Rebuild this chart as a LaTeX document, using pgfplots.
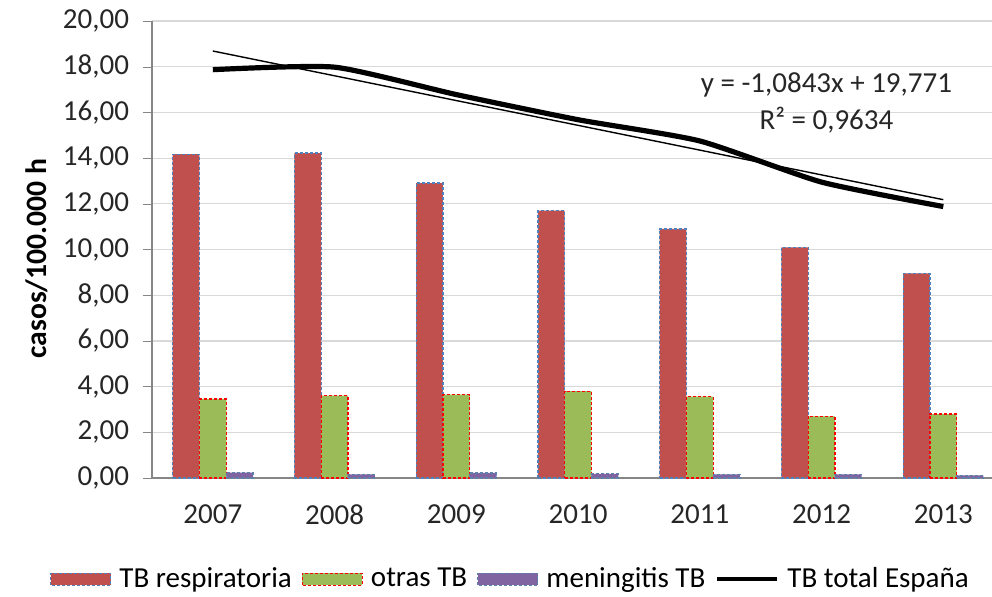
\documentclass[border=0pt]{standalone}
\usepackage{fontspec}
\setmainfont{Carlito}
\usepackage{pgfplots}
\pgfplotsset{compat=1.18}

\definecolor{tbred}{HTML}{C0504D}
\definecolor{tbgreen}{HTML}{9BBB59}
\definecolor{tbpurple}{HTML}{8064A2}
\definecolor{bordblue}{HTML}{4F81BD}
\definecolor{axgray}{HTML}{868686}
\definecolor{gridgray}{HTML}{D9D9D9}

\begin{document}
\begin{tikzpicture}
\fontsize{14.5}{17}\selectfont
\begin{axis}[
    scale only axis,
    width=420pt, height=228.5pt,
    xmin=-0.5, xmax=6.40,
    ymin=0, ymax=20,
    ytick={0,2,...,20},
    xtick={0,...,6},
    xticklabels={2007,2008,2009,2010,2011,2012,2013},
    major x tick style={draw=none},
    extra x ticks={0.5,1.5,2.5,3.5,4.5,5.5},
    extra x tick labels={},
    extra x tick style={major tick length=4pt, tick style={draw=axgray}},
    tick align=outside,
    major tick length=4.5pt,
    axis x line*=bottom,
    axis y line*=left,
    axis line style={draw=axgray, line width=0.6pt},
    ytick style={draw=axgray},
    ymajorgrids,
    grid style={draw=gridgray, line width=0.6pt},
    tick label style={font=\fontsize{14.5}{17}\selectfont, color=black!85},
    /pgf/number format/.cd, fixed, fixed zerofill, precision=2, use comma, 1000 sep={},
    assume math mode=true,
    /pgfplots/.cd,
    xticklabel style={yshift=-4pt},
    yticklabel style={xshift=-2pt},
    ylabel={\bfseries casos/100.000 h},
    every axis y label/.style={at={(axis description cs:-0.137,0.48)}, rotate=90, anchor=center, font=\fontsize{14.8}{17}\selectfont},
    legend columns=-1,
    legend style={draw=none, fill=none, at={(axis description cs:0.428,-0.222)}, anchor=center,
        font=\fontsize{14.5}{17}\selectfont,
        /tikz/every odd column/.append style={column sep=2pt},
        /tikz/every even column/.append style={column sep=3pt}},
    legend cell align=left,
]
% TB respiratoria
\addplot[ybar, bar width=0.22, bar shift=-0.22, fill=tbred, draw=bordblue, line width=0.6pt, dash pattern=on 1.5pt off 1pt,
    legend image code/.code={\draw[fill=tbred, draw=bordblue, line width=0.6pt, dash pattern=on 1.5pt off 1pt] (0pt,-3pt) rectangle (30pt,3pt);}]
    coordinates {(0,14.17) (1,14.22) (2,12.91) (3,11.70) (4,10.90) (5,10.09) (6,8.96)};
\addlegendentry{TB respiratoria}
% otras TB
\addplot[ybar, bar width=0.22, bar shift=0, fill=tbgreen, draw=red, line width=0.6pt, dash pattern=on 1.5pt off 1pt,
    legend image code/.code={\draw[fill=tbgreen, draw=red, line width=0.6pt, dash pattern=on 1.5pt off 1pt] (0pt,-3pt) rectangle (30pt,3pt);}]
    coordinates {(0,3.46) (1,3.60) (2,3.65) (3,3.80) (4,3.56) (5,2.70) (6,2.80)};
\addlegendentry{otras TB}
% meningitis TB
\addplot[ybar, bar width=0.22, bar shift=0.22, fill=tbpurple, draw=bordblue!70!gray, line width=0.6pt, dash pattern=on 1.5pt off 1pt,
    legend image code/.code={\draw[fill=tbpurple, draw=bordblue!70!gray, line width=0.6pt, dash pattern=on 1.5pt off 1pt] (0pt,-3pt) rectangle (30pt,3pt);}]
    coordinates {(0,0.24) (1,0.16) (2,0.22) (3,0.18) (4,0.16) (5,0.16) (6,0.12)};
\addlegendentry{meningitis TB}
% TB total
\addplot[smooth, tension=0.35, black, line width=2.6pt, mark=none,
    legend image code/.code={\draw[black, line width=2pt] (0pt,0pt) -- (30pt,0pt);}]
    coordinates {(0,17.87) (1,17.98) (2,16.78) (3,15.68) (4,14.75) (5,12.95) (6,11.88)};
\addlegendentry{TB total España}
% linear trend
\addplot[sharp plot, black, line width=0.7pt, mark=none, forget plot]
    coordinates {(0,18.687) (6,12.181)};
\node[align=center, font=\fontsize{14.5}{18.5}\selectfont, color=black!85] at (axis cs:5.04,16.4)
    {y = -1,0843x + 19,771\\R² = 0,9634};
\end{axis}
\pgfresetboundingbox
\path[use as bounding box] (-76pt,-59pt) rectangle (420pt,239pt);
\end{tikzpicture}
\end{document}
